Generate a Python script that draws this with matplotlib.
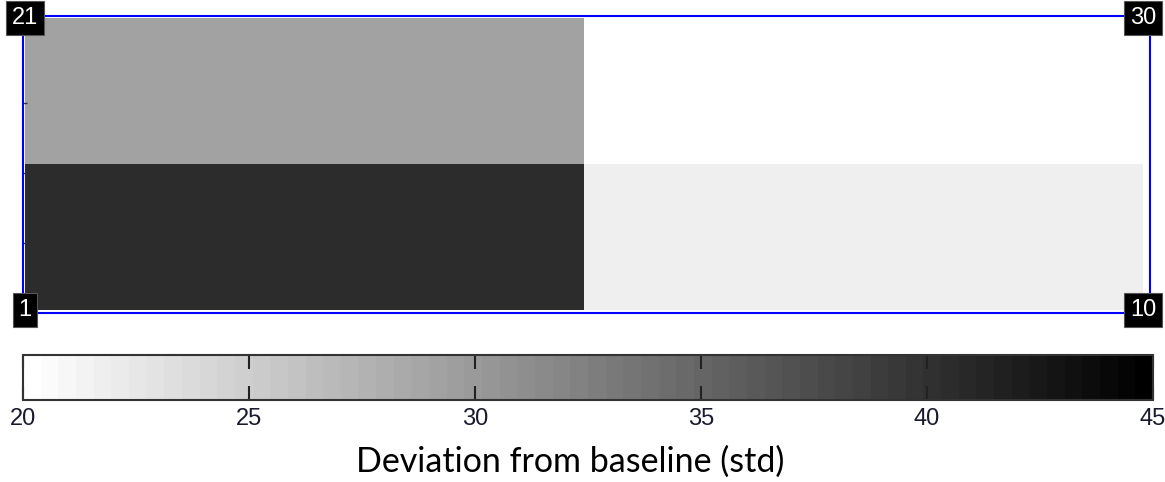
import numpy as np
import matplotlib
matplotlib.use("Agg")
import matplotlib.pyplot as plt
from matplotlib.colors import ListedColormap, Normalize

# cell values (rows bottom -> top, columns left -> right)
values = np.array([[40.6, 21.7],
                   [29.0, 20.0]])
corner_labels = ["1", "10", "21", "30"]
cbar_ticks = [20, 25, 30, 35, 40, 45]
vmin, vmax = 20, 45
cbar_label = "Deviation from baseline (std)"

# MATLAB-like 64 step reversed gray map
cmap = ListedColormap(plt.cm.gray_r(np.linspace(0, 1, 64)))
norm = Normalize(vmin=vmin, vmax=vmax)

fig = plt.figure(figsize=(11.65, 4.82), dpi=100)

ax = fig.add_axes([23/1165, 1 - 313/482, (1150 - 23)/1165, (313 - 16)/482])
ax.pcolormesh(np.arange(3), np.arange(3), values, cmap=cmap, norm=norm, shading="flat")
ax.set_xlim(-0.0036, 2.0125)
ax.set_ylim(-0.0205, 2.0137)
for s in ax.spines.values():
    s.set_color("#0000ff")
    s.set_linewidth(1.5)
ax.set_xticks([])
ax.set_yticks([0.459, 0.938, 1.418])
ax.set_yticklabels([])
ax.tick_params(axis="y", direction="in", length=3, width=1, color="#333333")

box = dict(boxstyle="square,pad=0.25", fc="black", ec="#555555", lw=0.8)
pos = [(0, 0), (2, 0), (0, 2), (2, 2)]
for (x, y), t in zip(pos, corner_labels):
    ax.text(x, y, t, color="white", fontsize=17, family="Liberation Sans",
            ha="center", va="center", bbox=box, clip_on=False, zorder=5)

cax = fig.add_axes([23/1165, 1 - 400/482, (1153 - 23)/1165, (400 - 355)/482])
cb = fig.colorbar(plt.cm.ScalarMappable(norm=norm, cmap=cmap), cax=cax, orientation="horizontal")
cb.set_ticks(cbar_ticks)
cb.outline.set_edgecolor("#333333")
cb.outline.set_linewidth(1.5)
cax.tick_params(axis="x", direction="in", length=10, width=1.5, color="#222222",
                top=True, labelsize=17, pad=6, labelcolor="#1a1a2e")
for lab in cax.get_xticklabels():
    lab.set_family("Liberation Sans")

fig.text(570/1165, 1 - 462/482, cbar_label, ha="center", va="center",
         fontsize=24.5, family="Lato")

fig.savefig("out.png", dpi=100)
